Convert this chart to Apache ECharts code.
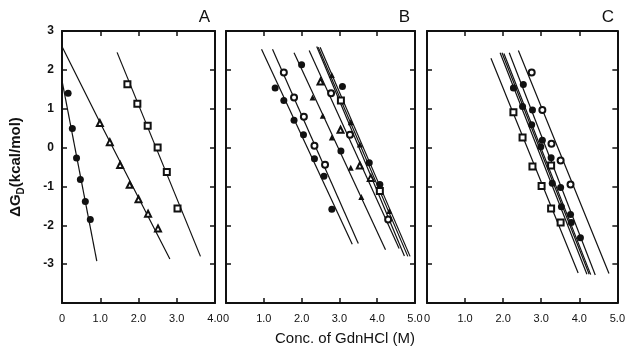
<!DOCTYPE html>
<html>
<head>
<meta charset="utf-8">
<script src="https://cdn.jsdelivr.net/npm/echarts@6/dist/echarts.min.js"></script>
<style>
  html, body { margin: 0; padding: 0; background: #fff; }
  #chart { width: 628px; height: 352px; }
</style>
</head>
<body>
<div id="chart"></div>
<script>
// panel A
const aFilledCircles = [[0.16, 1.40], [0.27, 0.49], [0.38, -0.27], [0.48, -0.82], [0.61, -1.39], [0.74, -1.85]];
const aOpenTriangles = [[0.99, 0.63], [1.25, 0.14], [1.52, -0.45], [1.77, -0.96], [2.00, -1.33], [2.25, -1.70], [2.51, -2.08]];
const aOpenSquares = [[1.71, 1.63], [1.97, 1.13], [2.24, 0.56], [2.50, 0.00], [2.74, -0.63], [3.02, -1.57]];
const aFits = [
  [[0, 1.72], [0.91, -2.92]],
  [[0, 2.60], [1.0, 0.63], [2.82, -2.87]],
  [[1.44, 2.45], [3.62, -2.80]]
];

// panel B
const bFilledCircles = [[1.30, 1.53], [1.53, 1.21], [1.80, 0.70], [2.05, 0.33], [2.34, -0.29], [2.59, -0.74], [2.80, -1.59],
  [2.00, 2.13], [3.04, -0.09], [3.08, 1.57], [3.79, -0.39], [4.07, -0.95]];
const bOpenCircles = [[1.53, 1.93], [1.80, 1.29], [2.06, 0.79], [2.34, 0.05], [2.62, -0.44], [2.78, 1.40], [3.28, 0.33], [4.29, -1.85]];
const bFilledTriangles = [[2.29, 1.29], [2.56, 0.82], [2.80, 0.26], [3.30, -0.52], [3.58, -1.27],
  [2.80, 1.87], [3.30, 0.65], [3.54, 0.08], [4.32, -1.63]];
const bOpenTriangles = [[2.50, 1.70], [3.03, 0.46], [3.54, -0.46], [3.83, -0.78]];
const bOpenSquares = [[3.04, 1.21], [4.07, -1.12]];
const bFits = [
  [[0.94, 2.53], [3.34, -2.49]],
  [[1.23, 2.53], [3.50, -2.47]],
  [[1.80, 2.44], [4.22, -2.63]],
  [[2.20, 2.50], [4.58, -2.60]],
  [[2.40, 2.60], [4.72, -2.79]],
  [[2.44, 2.58], [4.81, -2.80]],
  [[2.49, 2.58], [4.87, -2.80]]
];

// panel C
const cOpenSquares = [[2.27, 0.91], [2.51, 0.26], [2.77, -0.49], [3.01, -0.99], [3.26, -1.57], [3.51, -1.93], [3.26, -0.46]];
const cOpenCircles = [[2.75, 1.93], [3.03, 0.97], [3.27, 0.10], [3.51, -0.33], [3.77, -0.95]];
const cFilledCircles = [[2.27, 1.53], [2.51, 1.06], [2.75, 0.59], [2.99, 0.02], [3.29, -0.92], [3.53, -1.52], [3.79, -1.93],
  [2.53, 1.62], [2.77, 0.97], [3.03, 0.19], [3.26, -0.26], [3.51, -1.03], [3.77, -1.72], [4.03, -2.32]];
const cFits = [
  [[1.68, 2.30], [3.97, -3.23]],
  [[1.92, 2.44], [4.20, -3.26]],
  [[1.97, 2.44], [4.26, -3.26]],
  [[2.02, 2.42], [4.30, -3.27]],
  [[2.16, 2.44], [4.42, -3.28]],
  [[2.40, 2.50], [4.78, -3.24]]
];

const panelLabels = ['A', 'B', 'C'];
const xMaxes = [4, 5, 5];
const yMin = -4, yMax = 3;

const ink = '#111';
const font = 'Liberation Sans';
const grids = [
  { left: 62, top: 31, width: 153, height: 272 },
  { left: 226, top: 31, width: 189, height: 272 },
  { left: 427, top: 31, width: 192, height: 272 }
];

function xLabel(v) { return v === 0 ? '0' : v.toFixed(1); }

const xAxis = [];
const yAxis = [];
grids.forEach((g, i) => {
  ['bottom', 'top'].forEach(pos => {
    xAxis.push({
      type: 'value', gridIndex: i, position: pos, min: 0, max: xMaxes[i], interval: 1,
      axisLine: { show: true, onZero: false, lineStyle: { color: ink, width: 2 } },
      axisTick: { show: true, inside: true, length: 5, lineStyle: { color: ink, width: 1.5 } },
      axisLabel: { show: pos === 'bottom', formatter: xLabel, color: ink, fontSize: 11, fontFamily: font, margin: 10 },
      splitLine: { show: false }
    });
  });
  ['left', 'right'].forEach(pos => {
    const ax = {
      type: 'value', gridIndex: i, position: pos, min: yMin, max: yMax, interval: 1,
      axisLine: { show: true, onZero: false, lineStyle: { color: ink, width: 2 } },
      axisTick: { show: true, inside: true, length: 5, lineStyle: { color: ink, width: 1.5 } },
      axisLabel: {
        show: i === 0 && pos === 'left', color: ink, fontSize: 12, fontWeight: 'bold', fontFamily: font, margin: 8,
        formatter: v => (v === yMin ? '' : String(v))
      },
      splitLine: { show: false }
    };
    if (i === 0 && pos === 'left') {
      ax.name = '{a|ΔG}{s|D}{a|(kcal/mol)}';
      ax.nameLocation = 'middle';
      ax.nameGap = 36;
      ax.nameRotate = 90;
      ax.nameTextStyle = {
        rich: {
          a: { fontSize: 15, fontWeight: 'bold', color: ink, fontFamily: font, lineHeight: 20 },
          s: { fontSize: 10, fontWeight: 'bold', color: ink, fontFamily: font, lineHeight: 20, verticalAlign: 'bottom', padding: [6, 0, 0, 0] }
        }
      };
    }
    yAxis.push(ax);
  });
});

const series = [];
function addFits(fits, p) {
  fits.forEach(f => series.push({
    type: 'line', xAxisIndex: p * 2, yAxisIndex: p * 2, data: f, showSymbol: false, silent: true,
    lineStyle: { color: ink, width: 1.2 }, z: 2
  }));
}
function addPoints(data, p, symbol, size) {
  const empty = symbol.startsWith('empty');
  series.push({
    type: 'scatter', xAxisIndex: p * 2, yAxisIndex: p * 2, data: data, symbol: symbol, symbolSize: size,
    itemStyle: { color: ink, opacity: 1, borderWidth: empty ? 1 : 0 }, z: 3
  });
}
addFits(aFits, 0);
addFits(bFits, 1);
addFits(cFits, 2);
addPoints(aFilledCircles, 0, 'circle', 7);
addPoints(aOpenTriangles, 0, 'emptyTriangle', 6);
addPoints(aOpenSquares, 0, 'emptyRect', 6);
addPoints(bFilledCircles, 1, 'circle', 7);
addPoints(bOpenCircles, 1, 'emptyCircle', 6);
addPoints(bFilledTriangles, 1, 'triangle', 6);
addPoints(bOpenTriangles, 1, 'emptyTriangle', 6);
addPoints(bOpenSquares, 1, 'emptyRect', 6);
addPoints(cOpenSquares, 2, 'emptyRect', 6);
addPoints(cOpenCircles, 2, 'emptyCircle', 6);
addPoints(cFilledCircles, 2, 'circle', 7);

const chart = echarts.init(document.getElementById('chart'));
chart.setOption({
  backgroundColor: '#fff',
  animation: false,
  grid: grids,
  xAxis: xAxis,
  yAxis: yAxis,
  title: [
    ...panelLabels.map((t, i) => ({
      text: t, right: 628 - grids[i].left - grids[i].width, top: 4,
      textStyle: { fontSize: 17, fontWeight: 'normal', color: ink, fontFamily: font }
    })),
    {
      text: 'Conc. of GdnHCl (M)', left: 340, top: 326, textAlign: 'center',
      textStyle: { fontSize: 15, fontWeight: 'normal', color: ink, fontFamily: font }
    }
  ],
  series: series
});
</script>
</body>
</html>
